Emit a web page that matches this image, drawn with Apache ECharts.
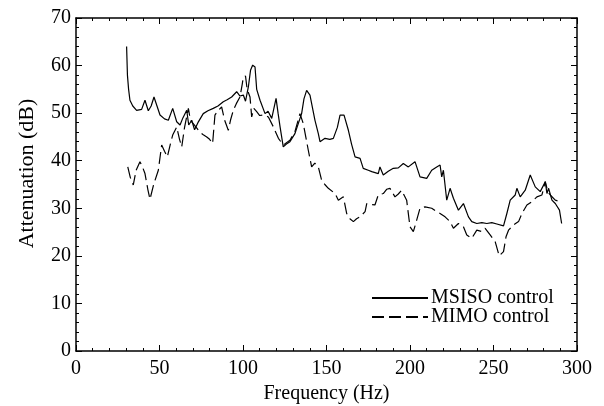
<!DOCTYPE html>
<html>
<head>
<meta charset="utf-8">
<script src="https://cdn.jsdelivr.net/npm/echarts@6/dist/echarts.min.js"></script>
<style>
  html, body { margin: 0; padding: 0; background: #ffffff; }
  #chart { width: 604px; height: 406px; }
</style>
</head>
<body>
<div id="chart"></div>
<script>
// MSISO control (solid)
var msisoFreq = [30.3, 30.8, 31.5, 32.3, 34, 36.3, 39.3, 41.3, 43.3, 45, 46.7, 48.5, 50.3, 53, 55.3, 57.9, 60.3, 62.3, 64, 66.3,
  67.5, 69.3, 71, 73, 76.2, 79, 82.2, 85, 88.2, 90.5, 93.2, 96.2, 98.2, 100.2, 101.5, 103.2, 104.5, 105.8, 107.2, 108.2,
  110.2, 113.2, 115, 117.2, 119.8, 121, 122.2, 124.1, 126, 128.1, 131.1, 133.1, 135.1, 136.5, 138.1, 140.1, 143.1, 145.1, 146.1, 149.1,
  152, 154.1, 156.5, 158.1, 160.5, 163.1, 165, 167.1, 170.1, 172, 175, 177.1, 181, 182, 184, 187, 190, 193, 196, 199,
  203, 206, 210, 213, 216, 218, 219, 220, 222, 224, 226, 229, 232, 235, 237, 240, 243, 246, 249, 252,
  256, 258, 260, 263, 264, 266, 269, 272, 275, 278, 281, 282, 283, 285, 287, 289.5, 290.8];
var msisoAtt = [64, 58, 55, 52.7, 51.5, 50.6, 50.8, 52.7, 50.5, 51.5, 53.4, 51.5, 49.6, 48.8, 48.5, 51, 48.2, 47.5, 49, 50.6,
  47.5, 48.5, 46.5, 48, 49.9, 50.5, 51, 51.5, 52.4, 52.8, 53.4, 54.5, 53.6, 53.8, 52.5, 55.5, 59, 60.1, 59.7, 55,
  52.7, 49.9, 50.4, 48.9, 53.1, 50, 47.1, 42.9, 43.5, 44, 45.7, 47.8, 49.9, 53, 54.8, 53.8, 48.5, 45.7, 44, 44.7,
  44.5, 44.7, 47, 49.6, 49.6, 46.4, 43.5, 40.8, 40.5, 38.4, 38, 37.7, 37.3, 38.7, 37, 37.8, 38.4, 38.5, 39.4, 38.7,
  39.8, 36.6, 36.3, 38, 38.7, 39.1, 36.6, 38, 31.7, 34.2, 32.1, 29.6, 31, 28.2, 27.2, 26.8, 27, 26.8, 27, 26.7,
  26.3, 28.9, 31.7, 32.8, 34.2, 32.4, 33.8, 37, 34.5, 33.5, 35.6, 33.1, 34.2, 31.7, 31, 29.6, 26.8];

// MIMO control (dashed)
var mimoFreq = [31, 32.5, 34.3, 36, 38.3, 40, 41.3, 43, 44.3, 46.5, 49.3, 51.3, 53, 54.7, 56.5, 57.9, 60.3, 62, 63.3, 65,
  67.3, 68.5, 70.2, 72, 74.2, 76, 78.3, 80, 81.8, 83.2, 85, 87.2, 89, 91.2, 92.5, 94.2, 96, 98.2, 99.5, 100.2,
  101.5, 102.5, 104.2, 105.2, 106.5, 108.2, 110, 112.2, 115.2, 118.2, 121.2, 124.1, 128.1, 131.1, 134.1, 136.1, 139.1, 141.1, 143, 145.1,
  147.1, 149, 151.1, 155.1, 157.1, 160.1, 162.1, 164, 166.1, 168, 170.1, 173.1, 174.1, 177, 179, 181, 184, 186, 188, 191,
  193, 195, 196, 198, 200, 202, 204, 206, 209, 213, 216, 218, 221, 224, 226, 229, 232, 234, 237, 240,
  243, 245, 248, 251, 253.4, 256, 257.5, 259, 262, 265, 267, 270, 273, 276, 279, 281, 282.5, 284, 287, 290];
var mimoAtt = [38.7, 36.5, 34.9, 38, 39.8, 38.5, 37.3, 34, 31.9, 35, 38, 43.3, 42, 40.8, 43.5, 45.4, 47.1, 44.5, 42.9, 47,
  51, 48.5, 47.8, 47, 46, 45.5, 45, 44.5, 43.6, 49.6, 50.5, 51.3, 48.5, 46.4, 48.5, 50.6, 52, 53.4, 56, 57.6,
  57.8, 55, 53.4, 49.2, 51, 50.3, 49.5, 49.6, 49.2, 47.1, 44.7, 43.3, 44.3, 46.1, 49.9, 47.8, 42.2, 38.7, 39.5, 38.7,
  35.9, 35, 34.2, 33.1, 31.7, 32.4, 28.9, 27.8, 27.2, 27.8, 28.2, 29.3, 31, 30.8, 30.7, 32.8, 33.1, 34, 34.2, 32.4,
  33, 33.8, 33.8, 31.7, 26.1, 25.1, 27.5, 30, 30.3, 30, 29.3, 28.9, 28.2, 27.2, 25.8, 26.8, 26.1, 24.4, 23.7, 25.4,
  25.1, 25.8, 24.4, 23, 20, 20.9, 24, 25.4, 26.5, 27.2, 28.9, 30.7, 31.4, 32.4, 32.8, 35.6, 33.5, 32.8, 31.7, 31.4];

var xTicks = [0, 300, 50];
var yTicks = [0, 70, 10];

function pairs(xs, ys) {
  var out = [];
  for (var i = 0; i < xs.length; i++) out.push([xs[i], ys[i]]);
  return out;
}

var font = 'Liberation Serif';
var chart = echarts.init(document.getElementById('chart'), null, { renderer: 'canvas' });

function axisBase(showLabels, margin) {
  return {
    axisLine: { show: true, onZero: false, lineStyle: { color: '#000', width: 1.5 } },
    axisTick: { show: true, inside: true, length: 6, lineStyle: { color: '#000', width: 1 } },
    minorTick: { show: true, splitNumber: 5, length: 3, lineStyle: { color: '#000', width: 1 } },
    splitLine: { show: false },
    axisLabel: { show: showLabels, color: '#000', fontFamily: font, fontSize: 20, margin: margin }
  };
}

var option = {
  backgroundColor: '#ffffff',
  animation: false,
  grid: { left: 76, right: 27, top: 18, bottom: 55, containLabel: false, outerBoundsMode: 'none' },
  legend: {
    left: 366,
    top: 283,
    orient: 'vertical',
    itemWidth: 56,
    itemHeight: 12,
    itemGap: -1,
    itemStyle: { opacity: 0 },
    textStyle: { color: '#000', fontFamily: font, fontSize: 20, padding: [0, 0, 0, -2] },
    data: ['MSISO control', 'MIMO control']
  },
  xAxis: [
    Object.assign(axisBase(true, 8), {
      type: 'value', min: xTicks[0], max: xTicks[1], interval: xTicks[2],
      name: 'Frequency (Hz)', nameLocation: 'middle', nameGap: 27,
      nameTextStyle: { color: '#000', fontFamily: font, fontSize: 20 }
    }),
    Object.assign(axisBase(false, 8), {
      type: 'value', position: 'top', min: xTicks[0], max: xTicks[1], interval: xTicks[2]
    })
  ],
  yAxis: [
    Object.assign(axisBase(true, 5), {
      type: 'value', min: yTicks[0], max: yTicks[1], interval: yTicks[2],
      name: 'Attenuation (dB)', nameLocation: 'middle', nameGap: 38,
      nameTextStyle: { color: '#000', fontFamily: font, fontSize: 22, padding: [0, 0, 0, 22] }
    }),
    Object.assign(axisBase(false, 8), {
      type: 'value', position: 'right', min: yTicks[0], max: yTicks[1], interval: yTicks[2]
    })
  ],
  series: [
    {
      name: 'MSISO control',
      type: 'line',
      symbol: 'none',
      color: '#000',
      lineStyle: { color: '#000', width: 1.2, type: 'solid' },
      data: pairs(msisoFreq, msisoAtt)
    },
    {
      name: 'MIMO control',
      type: 'line',
      symbol: 'none',
      color: '#000',
      lineStyle: { color: '#000', width: 1.2, type: [12, 5] },
      data: pairs(mimoFreq, mimoAtt)
    }
  ]
};

chart.setOption(option);
</script>
</body>
</html>
